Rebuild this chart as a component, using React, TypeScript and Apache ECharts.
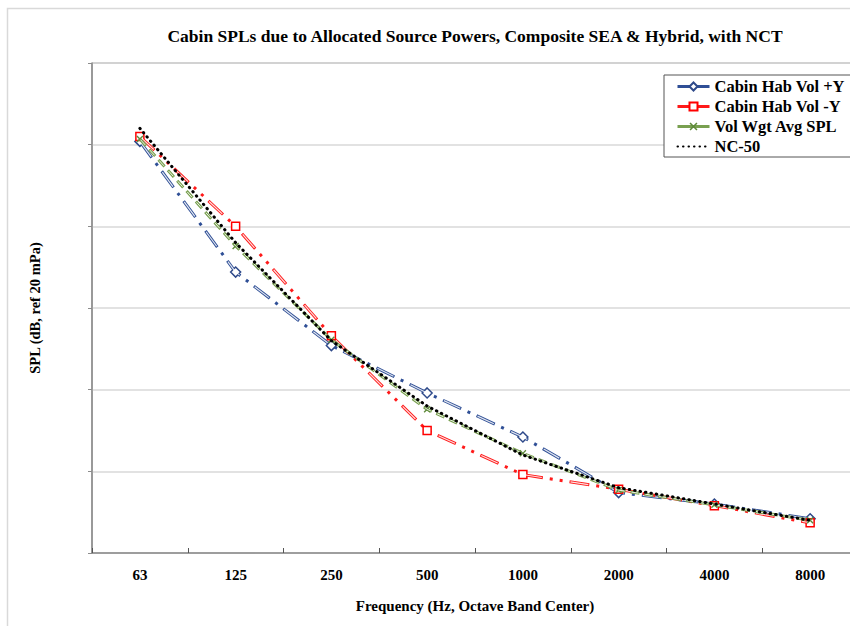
import React, { useEffect, useRef } from "react";
import * as echarts from "echarts";

const categories = ["63", "125", "250", "500", "1000", "2000", "4000", "8000"];
const habPlusY = [70.2, 62.2, 57.7, 54.8, 52.1, 48.7, 48.0, 47.1];
const habMinusY = [70.5, 65.0, 58.3, 52.5, 49.8, 48.9, 47.9, 46.85];
const volWgtAvg = [70.35, 63.8, 58.05, 53.8, 51.1, 48.85, 47.95, 47.0];
const nc50 = [71, 64, 58, 54, 51, 49, 48, 47];

const FONT = "'Liberation Serif', 'Times New Roman', serif";
const X_PATH =
  "path://M0,1.4L1.4,0L5,3.6L8.6,0L10,1.4L6.4,5L10,8.6L8.6,10L5,6.4L1.4,10L0,8.6L3.6,5Z";

const overlay = (name: string, data: number[], dash: number[], offset: number, width: number, z: number) => ({
  name,
  type: "line",
  data,
  symbol: "none",
  silent: true,
  lineStyle: { color: "rgba(255,255,255,0.85)", width, type: dash, dashOffset: offset, cap: "butt" },
  z,
});

export default function App() {
  const ref = useRef<HTMLDivElement>(null);
  useEffect(() => {
    if (!ref.current) return;
    const chart = echarts.init(ref.current, null, { renderer: "svg" });
    chart.setOption({
      animation: false,
      backgroundColor: "#fff",
      title: {
        text: "Cabin SPLs due to Allocated Source Powers, Composite SEA & Hybrid, with NCT",
        left: 470,
        top: 22,
        textAlign: "center",
        textStyle: { fontFamily: FONT, fontWeight: "bold", fontSize: 17.5, color: "#000" },
      },
      graphic: [
        {
          type: "rect",
          shape: { x: 7.5, y: 8.5, width: 900, height: 700 },
          style: { fill: "none", stroke: "#d9d9d9", lineWidth: 1.5 },
          silent: true,
        },
      ],
      legend: {
        orient: "vertical",
        left: 664,
        top: 75,
        borderColor: "#555",
        borderWidth: 1,
        backgroundColor: "#fff",
        padding: [3, 14, 2, 12],
        itemWidth: 32,
        itemHeight: 10,
        itemGap: 3,
        textStyle: { fontFamily: FONT, fontWeight: "bold", fontSize: 16.5, color: "#000" },
        data: [
          { name: "Cabin Hab Vol +Y", lineStyle: { type: "solid", width: 3 } },
          { name: "Cabin Hab Vol -Y", lineStyle: { type: "solid", width: 3 } },
          { name: "Vol Wgt Avg SPL", lineStyle: { type: "solid", width: 3 } },
          { name: "NC-50", itemStyle: { color: "rgba(0,0,0,0)", borderColor: "rgba(0,0,0,0)", borderWidth: 0 } },
        ],
      },
      grid: {
        left: 92,
        top: 63,
        width: 766,
        height: 490,
        outerBoundsMode: "none",
        containLabel: false,
        show: true,
        borderColor: "#808080",
        borderWidth: 1,
      },
      xAxis: {
        type: "category",
        data: categories,
        boundaryGap: true,
        name: "Frequency (Hz, Octave Band Center)",
        nameLocation: "middle",
        nameGap: 45,
        nameTextStyle: { fontFamily: FONT, fontWeight: "bold", fontSize: 15, color: "#000" },
        axisLine: { lineStyle: { color: "#8c8c8c", width: 1.5 } },
        axisTick: { show: true, inside: true, length: 5, interval: 0, lineStyle: { color: "#555" } },
        axisLabel: {
          margin: 14,
          interval: 0,
          fontFamily: FONT,
          fontWeight: "bold",
          fontSize: 15,
          color: "#000",
        },
      },
      yAxis: {
        type: "value",
        min: 45,
        max: 75,
        interval: 5,
        name: "SPL (dB, ref 20 mPa)",
        nameLocation: "middle",
        nameRotate: 90,
        nameGap: 50,
        nameTextStyle: { fontFamily: FONT, fontWeight: "bold", fontSize: 14.5, color: "#000" },
        axisLine: { show: true, lineStyle: { color: "#8c8c8c", width: 1.5 } },
        axisTick: { show: true, length: 4, lineStyle: { color: "#8c8c8c" } },
        axisLabel: { show: false },
        splitLine: { lineStyle: { color: "#d9d9d9", width: 1.5 } },
      },
      series: [
        {
          name: "Cabin Hab Vol +Y",
          type: "line",
          data: habPlusY,
          symbol: "diamond",
          symbolSize: 10,
          itemStyle: { color: "#fff", borderColor: "#2F4A8A", borderWidth: 1.5 },
          lineStyle: { color: "#2F4F96", width: 3, type: [20, 7, 3, 7], cap: "butt" },
          z: 2,
        },
        overlay("_blueInner", habPlusY, [18, 19], 36, 1.2, 3),
        {
          name: "Cabin Hab Vol -Y",
          type: "line",
          data: habMinusY,
          symbol: "rect",
          symbolSize: 8,
          itemStyle: { color: "#fff", borderColor: "#FF0000", borderWidth: 1.5 },
          lineStyle: { color: "#FF1A1A", width: 3, type: [20, 7, 3, 7, 3, 7], cap: "butt" },
          z: 4,
        },
        overlay("_redInner", habMinusY, [18, 29], 46, 1.2, 5),
        {
          name: "Vol Wgt Avg SPL",
          type: "line",
          data: volWgtAvg,
          symbol: X_PATH,
          symbolSize: 7,
          itemStyle: { color: "#5E8A3A", borderWidth: 0 },
          lineStyle: { color: "#79A050", width: 3, type: [9, 5], cap: "butt" },
          z: 6,
        },
        overlay("_greenInner", volWgtAvg, [7, 7], 13, 1, 7),
        {
          name: "NC-50",
          type: "line",
          data: nc50,
          symbol: "none",
          itemStyle: { color: "#000" },
          lineStyle: { color: "#000", width: 3, type: [0.5, 5], cap: "round" },
          z: 8,
        },
      ],
    });
    return () => chart.dispose();
  }, []);
  return (
    <div
      ref={ref}
      style={{ position: "fixed", left: 0, top: 0, width: 850, height: 626 }}
    />
  );
}
